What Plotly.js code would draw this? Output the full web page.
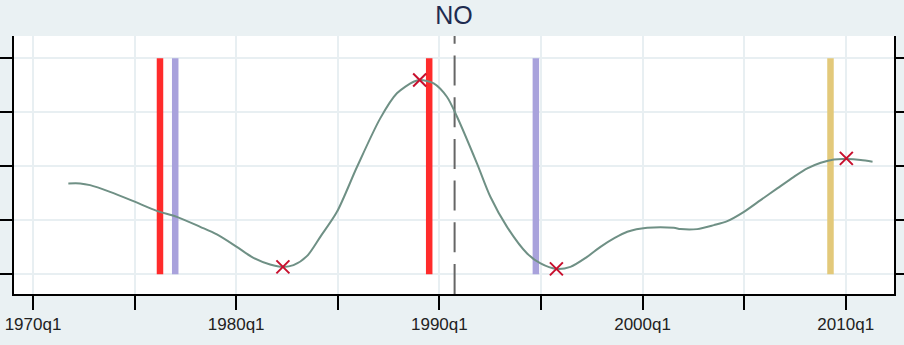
<!DOCTYPE html>
<html>
<head>
<meta charset="utf-8">
<script src="https://cdn.plot.ly/plotly-3.0.1.min.js"></script>
<style>html,body{margin:0;padding:0;background:#eaf1f3;}#chart{width:904px;height:345px;}</style>
</head>
<body>
<div id="chart"></div>
<script>
// Smoothed series (year as decimal, 1970.0 = 1970q1)
const lineYears = [1971.74,1972.32,1972.81,1973.79,1974.94,1976.09,1977.08,1978.23,1979.05,1980.03,1980.85,1981.67,1982.30,1982.82,1983.48,1984.14,1984.96,1985.95,1987.09,1987.91,1988.73,1989.06,1989.72,1990.37,1990.87,1991.85,1992.51,1993.33,1994.32,1994.98,1995.76,1996.45,1997.27,1997.93,1998.59,1999.25,2000.23,2001.54,2001.87,2002.69,2003.51,2004.17,2004.99,2005.81,2006.63,2007.45,2008.11,2008.77,2009.42,2010.08,2010.74,2011.32];
const lineValues = [-0.318,-0.318,-0.350,-0.474,-0.646,-0.826,-0.937,-1.123,-1.264,-1.494,-1.698,-1.820,-1.865,-1.833,-1.666,-1.308,-0.845,-0.010,0.887,1.351,1.566,1.597,1.536,1.288,0.917,0.053,-0.566,-1.123,-1.616,-1.801,-1.902,-1.864,-1.679,-1.494,-1.338,-1.215,-1.141,-1.141,-1.165,-1.165,-1.091,-1.017,-0.845,-0.628,-0.411,-0.196,-0.040,0.064,0.127,0.133,0.114,0.083];

// Turning points (crosses)
const turnYears = [1982.30,1989.03,1995.76,2010.03];
const turnValues = [-1.865,1.597,-1.902,0.146];

// Vertical event bars
const redBars = [1976.25,1989.5];
const purpleBars = [1977.0,1994.75];
const goldBars = [2009.25];
const barLow = -2, barHigh = 2;
const dashedYear = 1990.75;

// Axis ticks
const xTickVals = [1970,1975,1980,1985,1990,1995,2000,2005,2010];
const xTickText = ['1970q1','','1980q1','','1990q1','','2000q1','','2010q1'];
const yTickVals = [-2,-1,0,1,2];
const xRange = [1969.065,2012.376];
const yRange = [-2.367,2.413];

const traces = [];
function barTraces(list, color){
  list.forEach(v => traces.push({
    type:'scatter', mode:'lines', x:[v,v], y:[barLow,barHigh],
    line:{color:color, width:6.5}, hoverinfo:'skip', showlegend:false
  }));
}
barTraces(redBars,'#ff2b2b');
barTraces(purpleBars,'#a9a2dc');
barTraces(goldBars,'#e3c97a');
traces.push({type:'scatter', mode:'lines', x:[dashedYear,dashedYear], y:[yRange[0],yRange[1]],
  line:{color:'#666666', width:2, dash:'30px,11.7px'}, showlegend:false});
traces.push({type:'scatter', mode:'lines', x:lineYears, y:lineValues,
  line:{color:'#6f9085', width:2, shape:'spline', smoothing:0.8}, showlegend:false});
traces.push({type:'scatter', mode:'markers', x:turnYears, y:turnValues,
  marker:{symbol:'x-thin-open', size:13, line:{color:'#c8102e', width:2}, color:'#c8102e'}, showlegend:false});

const layout = {
  width:904, height:345,
  paper_bgcolor:'#eaf1f3', plot_bgcolor:'#ffffff',
  margin:{l:14, r:10, t:36, b:51},
  font:{family:'Liberation Sans, Arial, sans-serif', color:'#222222'},
  title:{text:'NO', font:{size:25, color:'#1e2c50', family:'Liberation Sans, Arial, sans-serif'},
    x:0.5, xref:'paper', xanchor:'center', y:0.956, yref:'container', yanchor:'middle'},
  xaxis:{range:xRange, tickmode:'array', tickvals:xTickVals, ticktext:xTickText,
    showgrid:true, gridcolor:'#e8eff2', gridwidth:2, zeroline:false,
    showline:true, linecolor:'#000000', linewidth:2,
    ticks:'outside', ticklen:14, tickwidth:2, tickcolor:'#000000',
    tickfont:{size:17, color:'#222222'}},
  yaxis:{range:yRange, tickmode:'array', tickvals:yTickVals, showticklabels:false,
    showgrid:true, gridcolor:'#e8eff2', gridwidth:2, zeroline:false,
    showline:true, linecolor:'#000000', linewidth:2, mirror:'ticks',
    ticks:'outside', ticklen:14, tickwidth:2, tickcolor:'#000000'}
};
Plotly.newPlot('chart', traces, layout, {staticPlot:true, displayModeBar:false});
</script>
</body>
</html>
